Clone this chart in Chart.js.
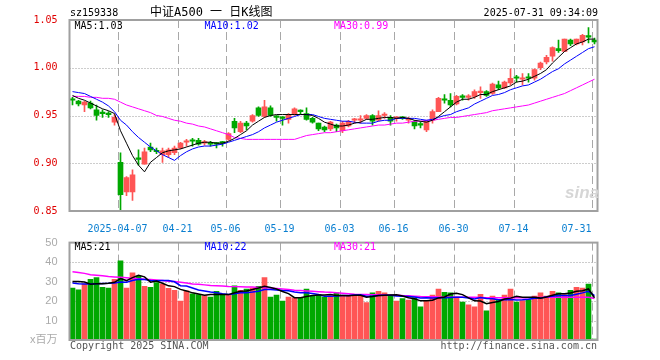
<!DOCTYPE html>
<html><head><meta charset="utf-8">
<script src="https://cdn.jsdelivr.net/npm/chart.js@4.4.1/dist/chart.umd.min.js"></script>
<style>
html,body{margin:0;padding:0;background:#fff;}
#wrap{position:relative;width:660px;height:360px;overflow:hidden;font-family:"DejaVu Sans Mono","Noto Sans CJK SC",monospace;}
.t{position:absolute;white-space:nowrap;font-size:10px;line-height:12px;}
canvas{position:absolute;left:0;}
</style></head><body>
<div id="wrap">
<canvas id="k" width="660" height="232" style="top:0"></canvas>
<canvas id="v" width="660" height="128" style="top:232px"></canvas>
<div class="t" style="left:70px;top:7px;color:#000">sz159338</div>
<div class="t" style="left:150px;top:5px;font-size:12px;line-height:14px;color:#000">中证A500 一 日K线图</div>
<div class="t" style="right:62px;top:7px;color:#000">2025-07-31 09:34:09</div>
<div class="t" style="left:74.5px;top:20px;color:#000">MA5:1.03</div>
<div class="t" style="left:204.5px;top:20px;color:#0000ff">MA10:1.02</div>
<div class="t" style="left:334px;top:20px;color:#ff00ff">MA30:0.99</div>
<div class="t" style="left:74.5px;top:240.5px;color:#000">MA5:21</div>
<div class="t" style="left:204.5px;top:240.5px;color:#0000ff">MA10:22</div>
<div class="t" style="left:334px;top:240.5px;color:#ff00ff">MA30:21</div>
<div class="t" style="left:70px;top:339.5px;color:#555">Copyright 2025 SINA.COM</div>
<div class="t" style="right:63px;top:339.5px;color:#555">http://finance.sina.com.cn</div>
<div class="t" style="left:565px;top:184px;font-family:'Liberation Sans',sans-serif;font-style:italic;font-weight:bold;font-size:17px;line-height:18px;color:#d6d6d6">sina</div>
</div>
<script>
const dates = ["2025-03-25","2025-03-26","2025-03-27","2025-03-28","2025-03-31","2025-04-01","2025-04-02","2025-04-03","2025-04-07","2025-04-08",
"2025-04-09","2025-04-10","2025-04-11","2025-04-14","2025-04-15","2025-04-16","2025-04-17","2025-04-18","2025-04-21","2025-04-22",
"2025-04-23","2025-04-24","2025-04-25","2025-04-28","2025-04-29","2025-04-30","2025-05-06","2025-05-07","2025-05-08","2025-05-09",
"2025-05-12","2025-05-13","2025-05-14","2025-05-15","2025-05-16","2025-05-19","2025-05-20","2025-05-21","2025-05-22","2025-05-23",
"2025-05-26","2025-05-27","2025-05-28","2025-05-29","2025-05-30","2025-06-03","2025-06-04","2025-06-05","2025-06-06","2025-06-09",
"2025-06-10","2025-06-11","2025-06-12","2025-06-13","2025-06-16","2025-06-17","2025-06-18","2025-06-19","2025-06-20","2025-06-23",
"2025-06-24","2025-06-25","2025-06-26","2025-06-27","2025-06-30","2025-07-01","2025-07-02","2025-07-03","2025-07-04","2025-07-07",
"2025-07-08","2025-07-09","2025-07-10","2025-07-11","2025-07-14","2025-07-15","2025-07-16","2025-07-17","2025-07-18","2025-07-21",
"2025-07-22","2025-07-23","2025-07-24","2025-07-25","2025-07-28","2025-07-29","2025-07-30","2025-07-31"];

const tickDates = ["2025-04-07","2025-04-21","2025-05-06","2025-05-19","2025-06-03","2025-06-16","2025-06-30","2025-07-14","2025-07-31"];
const tickText  = ["2025-04-07","04-21","05-06","05-19","06-03","06-16","06-30","07-14","07-31"];
const priceTicks = [0.85,0.90,0.95,1.00,1.05];
const volumeTicks = [0,10,20,30,40,50];
const volumeUnit = "x百万";

const opens = [0.967,0.965,0.961,0.963,0.956,0.953,0.952,0.943,0.901,0.870,
0.870,0.905,0.899,0.917,0.913,0.909,0.909,0.911,0.916,0.922,
0.924,0.924,0.921,0.921,0.921,0.922,0.925,0.944,0.933,0.942,
0.944,0.958,0.949,0.958,0.949,0.948,0.946,0.951,0.955,0.952,
0.947,0.942,0.938,0.936,0.940,0.934,0.939,0.945,0.945,0.947,
0.950,0.945,0.950,0.948,0.947,0.948,0.945,0.944,0.941,0.935,
0.945,0.954,0.967,0.966,0.962,0.970,0.969,0.970,0.974,0.975,
0.973,0.982,0.979,0.984,0.990,0.988,0.990,0.989,1.000,1.006,
1.012,1.020,1.017,1.029,1.025,1.027,1.033,1.029];
const closes = [0.966,0.962,0.964,0.958,0.950,0.952,0.951,0.948,0.867,0.885,
0.888,0.904,0.912,0.914,0.912,0.913,0.914,0.916,0.921,0.923,
0.923,0.920,0.922,0.920,0.920,0.921,0.931,0.937,0.942,0.939,
0.950,0.950,0.959,0.950,0.948,0.947,0.951,0.957,0.954,0.946,
0.943,0.936,0.935,0.943,0.937,0.942,0.944,0.946,0.946,0.950,
0.944,0.950,0.951,0.944,0.948,0.947,0.947,0.939,0.940,0.944,
0.954,0.968,0.966,0.961,0.970,0.969,0.970,0.975,0.975,0.971,
0.983,0.979,0.985,0.989,0.989,0.989,0.989,0.998,1.005,1.011,
1.021,1.018,1.030,1.025,1.030,1.034,1.032,1.027];
const highs = [0.969,0.966,0.965,0.965,0.961,0.956,0.954,0.951,0.911,0.886,
0.893,0.914,0.916,0.921,0.916,0.916,0.916,0.918,0.922,0.925,
0.926,0.926,0.924,0.923,0.922,0.923,0.932,0.947,0.944,0.944,
0.951,0.959,0.966,0.960,0.950,0.949,0.952,0.958,0.956,0.958,
0.948,0.942,0.939,0.944,0.941,0.944,0.945,0.947,0.950,0.951,
0.951,0.955,0.953,0.950,0.949,0.949,0.948,0.945,0.944,0.945,
0.956,0.969,0.972,0.973,0.971,0.972,0.972,0.977,0.980,0.976,
0.984,0.986,0.986,0.999,0.992,0.994,0.994,0.999,1.006,1.013,
1.022,1.029,1.030,1.030,1.030,1.035,1.042,1.031];
const lows = [0.961,0.960,0.954,0.957,0.945,0.948,0.948,0.940,0.850,0.866,
0.861,0.898,0.899,0.912,0.910,0.901,0.906,0.909,0.915,0.918,
0.918,0.919,0.919,0.918,0.916,0.918,0.924,0.932,0.932,0.935,
0.943,0.949,0.948,0.949,0.944,0.940,0.942,0.950,0.952,0.945,
0.942,0.934,0.933,0.934,0.933,0.932,0.938,0.942,0.942,0.946,
0.940,0.944,0.947,0.940,0.944,0.946,0.942,0.936,0.937,0.933,
0.942,0.954,0.963,0.959,0.961,0.966,0.966,0.968,0.968,0.970,
0.972,0.977,0.978,0.982,0.985,0.982,0.985,0.987,0.998,1.004,
1.007,1.016,1.017,1.023,1.024,1.024,1.026,1.025];

const ma5 = [0.971,0.968,0.966,0.963,0.960,0.957,0.955,0.952,0.934,0.921,
0.908,0.898,0.891,0.901,0.906,0.911,0.913,0.914,0.915,0.917,
0.919,0.921,0.922,0.922,0.921,0.921,0.923,0.926,0.930,0.934,
0.940,0.944,0.948,0.950,0.951,0.951,0.951,0.951,0.951,0.951,
0.950,0.947,0.943,0.941,0.939,0.939,0.940,0.942,0.943,0.946,
0.946,0.947,0.948,0.948,0.947,0.948,0.947,0.945,0.944,0.943,
0.945,0.949,0.954,0.959,0.964,0.967,0.967,0.969,0.972,0.972,
0.975,0.977,0.979,0.981,0.985,0.986,0.988,0.991,0.994,0.998,
1.005,1.011,1.017,1.021,1.025,1.027,1.030,1.030];
const ma10 = [0.975,0.974,0.973,0.970,0.967,0.964,0.960,0.954,0.945,0.940,
0.933,0.927,0.922,0.917,0.913,0.909,0.906,0.903,0.908,0.912,
0.915,0.917,0.918,0.918,0.919,0.920,0.922,0.924,0.926,0.928,
0.930,0.933,0.937,0.940,0.943,0.945,0.947,0.949,0.951,0.951,
0.951,0.949,0.947,0.946,0.945,0.944,0.944,0.943,0.942,0.942,
0.942,0.944,0.945,0.945,0.947,0.947,0.947,0.947,0.946,0.945,
0.946,0.948,0.950,0.951,0.954,0.956,0.958,0.962,0.965,0.968,
0.971,0.972,0.974,0.977,0.979,0.981,0.982,0.985,0.988,0.992,
0.996,0.999,1.004,1.008,1.012,1.016,1.020,1.022];
const ma30 = [0.970,0.970,0.970,0.969,0.969,0.968,0.968,0.967,0.964,0.961,
0.959,0.957,0.955,0.953,0.950,0.949,0.947,0.945,0.944,0.942,
0.941,0.939,0.938,0.936,0.934,0.932,0.930,0.927,0.926,0.925,
0.925,0.925,0.925,0.925,0.925,0.925,0.925,0.925,0.927,0.929,
0.930,0.931,0.932,0.932,0.933,0.934,0.935,0.936,0.937,0.938,
0.939,0.940,0.940,0.941,0.942,0.942,0.943,0.944,0.944,0.945,
0.945,0.946,0.947,0.948,0.948,0.949,0.950,0.951,0.952,0.953,
0.955,0.956,0.957,0.958,0.959,0.960,0.961,0.963,0.965,0.967,
0.969,0.971,0.973,0.976,0.979,0.982,0.985,0.988];

const volumes = [26.7,25.7,28.8,31.2,32,27,26.7,31.2,40.7,26.7,
34.5,32.8,27.5,27,29.5,28.7,26.5,25.5,20,25.3,
23.7,23.3,22.8,22,25,23.3,23.3,27.8,25.5,26.2,
26.7,27.5,32,22,23,20,22,21.7,21.7,26.2,
22.5,23.3,22,22.5,24.2,22.5,22.5,23.3,22.5,19.2,
24.2,25,24.2,22.8,20,21.2,20.5,21.7,17,20,
23,26.2,24.5,24.2,22,19.5,18,17,23.5,15,
22.5,20.8,23,26.2,19.5,20.3,20.8,22.5,24.2,22.5,
25,24.2,23.3,25.5,27,26.7,28.7,0.5];
const volMa5 = [30.0,30.0,29.8,28.6,28.9,28.9,29.1,29.6,31.5,30.5,
32.0,33.2,32.4,29.7,30.3,29.1,27.8,27.4,26.0,25.2,
24.2,23.6,23.0,23.4,23.4,23.3,23.3,24.3,25.0,25.2,
25.9,26.7,27.6,26.9,26.2,24.9,23.8,21.7,21.7,22.3,
22.8,23.1,23.1,23.3,22.9,22.9,22.7,23.0,23.0,22.0,
22.3,22.8,23.0,23.1,23.2,22.6,21.7,21.2,20.1,20.1,
20.4,21.6,22.1,23.6,24.0,23.3,21.6,20.1,20.0,18.6,
19.2,19.8,21.0,21.5,22.4,22.0,22.0,21.9,21.5,22.1,
23.0,23.7,23.8,24.1,25.0,25.3,26.2,21.7];
const volMa10 = [29.2,28.9,28.8,28.8,28.9,29.0,29.1,29.3,29.8,29.7,
30.5,31.2,31.0,30.6,30.4,30.5,30.5,29.9,27.9,27.7,
26.7,25.7,25.2,24.7,24.3,23.7,23.4,23.7,24.2,24.3,
24.6,25.0,25.9,25.9,25.7,25.4,25.3,24.7,24.3,24.3,
23.9,23.4,22.4,22.5,22.6,22.9,22.9,23.1,23.2,22.5,
22.6,22.8,23.0,23.0,22.6,22.5,22.3,22.1,21.6,21.7,
21.5,21.7,21.7,21.8,22.0,21.9,21.6,21.1,21.8,21.3,
21.2,20.7,20.6,20.8,20.5,20.6,20.9,21.4,21.5,22.2,
22.5,22.8,22.9,22.8,23.5,24.2,25.0,22.8];
const volMa30 = [35.0,34.6,34.2,33.5,33.3,33.0,32.6,32.4,32.2,32.0,
31.7,31.5,31.2,31.0,30.8,30.5,30.2,30.0,29.6,29.2,
28.8,28.6,28.3,28.0,27.9,27.7,27.5,27.4,27.3,27.2,
27.2,27.0,26.9,26.7,26.5,26.2,25.9,25.6,25.4,25.2,
25.0,24.8,24.6,24.5,24.2,24.0,23.8,23.5,23.3,23.3,
23.2,23.2,23.1,23.0,23.0,22.8,22.7,22.5,22.3,22.2,
22.2,22.1,22.1,22.0,22.0,22.0,21.9,21.9,21.8,21.7,
21.7,21.7,21.7,21.7,21.7,21.7,21.7,21.8,21.8,21.9,
21.9,22.0,22.0,22.0,22.0,21.9,22.0,21.3];

const MONO = "'DejaVu Sans Mono', monospace";
const UP = '#ff5555', DOWN = '#00a800', FRAME = '#a0a0a0';
const colorAt = c => (closes[c.dataIndex] >= opens[c.dataIndex] ? UP : DOWN);
const xLabel = i => { const k = tickDates.indexOf(dates[i]); return k >= 0 ? tickText[k] : ''; };

// grid lines placed through the chart's own scales, plus the panel frame
const gridPlugin = {
  id: 'sinaGrid',
  beforeDatasetsDraw(chart, args, opts) {
    const a = chart.chartArea, ctx = chart.ctx, xs = chart.scales.x, ys = chart.scales.y;
    ctx.save();
    ctx.lineWidth = 1;
    ctx.strokeStyle = '#9a9a9a';
    ctx.setLineDash([1, 2]);
    opts.yTicks.forEach(v => {
      if (v <= ys.min || v >= ys.max) return;
      const y = Math.round(ys.getPixelForValue(v)) + 0.5;
      ctx.beginPath(); ctx.moveTo(a.left, y); ctx.lineTo(a.right, y); ctx.stroke();
    });
    ctx.strokeStyle = '#a8a8a8';
    ctx.setLineDash([8, 4]);
    const half = (xs.getPixelForValue(1) - xs.getPixelForValue(0)) / 2;
    tickDates.forEach(d => {
      const i = dates.indexOf(d);
      const x = Math.round(xs.getPixelForValue(i) - half) + 0.5;
      ctx.beginPath(); ctx.moveTo(x, a.top); ctx.lineTo(x, a.bottom); ctx.stroke();
    });
    ctx.restore();
  },
  afterDraw(chart) {
    const a = chart.chartArea, ctx = chart.ctx;
    ctx.save();
    ctx.strokeStyle = FRAME; ctx.lineWidth = 2;
    ctx.strokeRect(a.left, a.top, a.right - a.left, a.bottom - a.top);
    ctx.restore();
  }
};

const lineDs = (data, color, order, w) => ({type:'line', data, borderColor:color, borderWidth:w, pointRadius:0, tension:0, order});

new Chart(document.getElementById('k'), {
  type: 'bar',
  data: {
    labels: dates,
    datasets: [
      lineDs(ma5, '#000000', 1, 1),
      lineDs(ma10, '#0000ff', 2, 1),
      lineDs(ma30, '#ff00ff', 3, 1),
      {data: opens.map((o, i) => [o, closes[i]]), backgroundColor: colorAt, barThickness: 5, grouped: false, minBarLength: 1.5, order: 4},
      {data: lows.map((l, i) => [l, highs[i]]), backgroundColor: colorAt, barThickness: 1, grouped: false, order: 5}
    ]
  },
  options: {
    responsive: false, animation: false,
    plugins: {legend: {display: false}, tooltip: {enabled: false}, sinaGrid: {yTicks: priceTicks}},
    layout: {padding: {left: 0, right: 62.5, top: 20, bottom: 0}},
    scales: {
      x: {
        offset: true,
        grid: {display: false},
        border: {display: false},
        ticks: {autoSkip: false, maxRotation: 0, minRotation: 0, align: 'inner', labelOffset: -3, padding: 4,
                color: '#0a7fd0', font: {family: MONO, size: 10}, callback: (v, i) => xLabel(i)},
        afterFit: s => { s.height = 21; }
      },
      y: {
        min: priceTicks[0], max: priceTicks[priceTicks.length - 1],
        afterBuildTicks: s => { s.ticks = priceTicks.map(v => ({value: v})); },
        ticks: {padding: 4, color: '#e00000', font: {family: MONO, size: 10}, callback: v => Number(v).toFixed(2)},
        grid: {display: false},
        border: {display: false},
        afterFit: s => { s.width = 69.5; }
      }
    }
  },
  plugins: [gridPlugin]
});

new Chart(document.getElementById('v'), {
  type: 'bar',
  data: {
    labels: dates,
    datasets: [
      lineDs(volMa5, '#000000', 1, 1.5),
      lineDs(volMa10, '#0000ff', 2, 1.5),
      lineDs(volMa30, '#ff00ff', 3, 1.5),
      {data: volumes, backgroundColor: colorAt, barThickness: 5, grouped: false, order: 4}
    ]
  },
  options: {
    responsive: false, animation: false,
    plugins: {legend: {display: false}, tooltip: {enabled: false}, sinaGrid: {yTicks: volumeTicks}},
    layout: {padding: {left: 0, right: 62.5, top: 8, bottom: 0}},
    scales: {
      x: {
        offset: true,
        grid: {display: false},
        border: {display: false},
        ticks: {display: false, autoSkip: false},
        afterFit: s => { s.height = 20; }
      },
      y: {
        min: volumeTicks[0], max: volumeTicks[volumeTicks.length - 1],
        afterBuildTicks: s => { s.ticks = volumeTicks.map(v => ({value: v})); },
        ticks: {padding: 4, color: '#aaaaaa', font: {family: "'Liberation Sans', 'Noto Sans CJK SC', sans-serif", size: 11},
                callback: v => (v === 0 ? volumeUnit : String(v))},
        grid: {display: false},
        border: {display: false},
        afterFit: s => { s.width = 69.5; }
      }
    }
  },
  plugins: [gridPlugin]
});
</script>
</body></html>
